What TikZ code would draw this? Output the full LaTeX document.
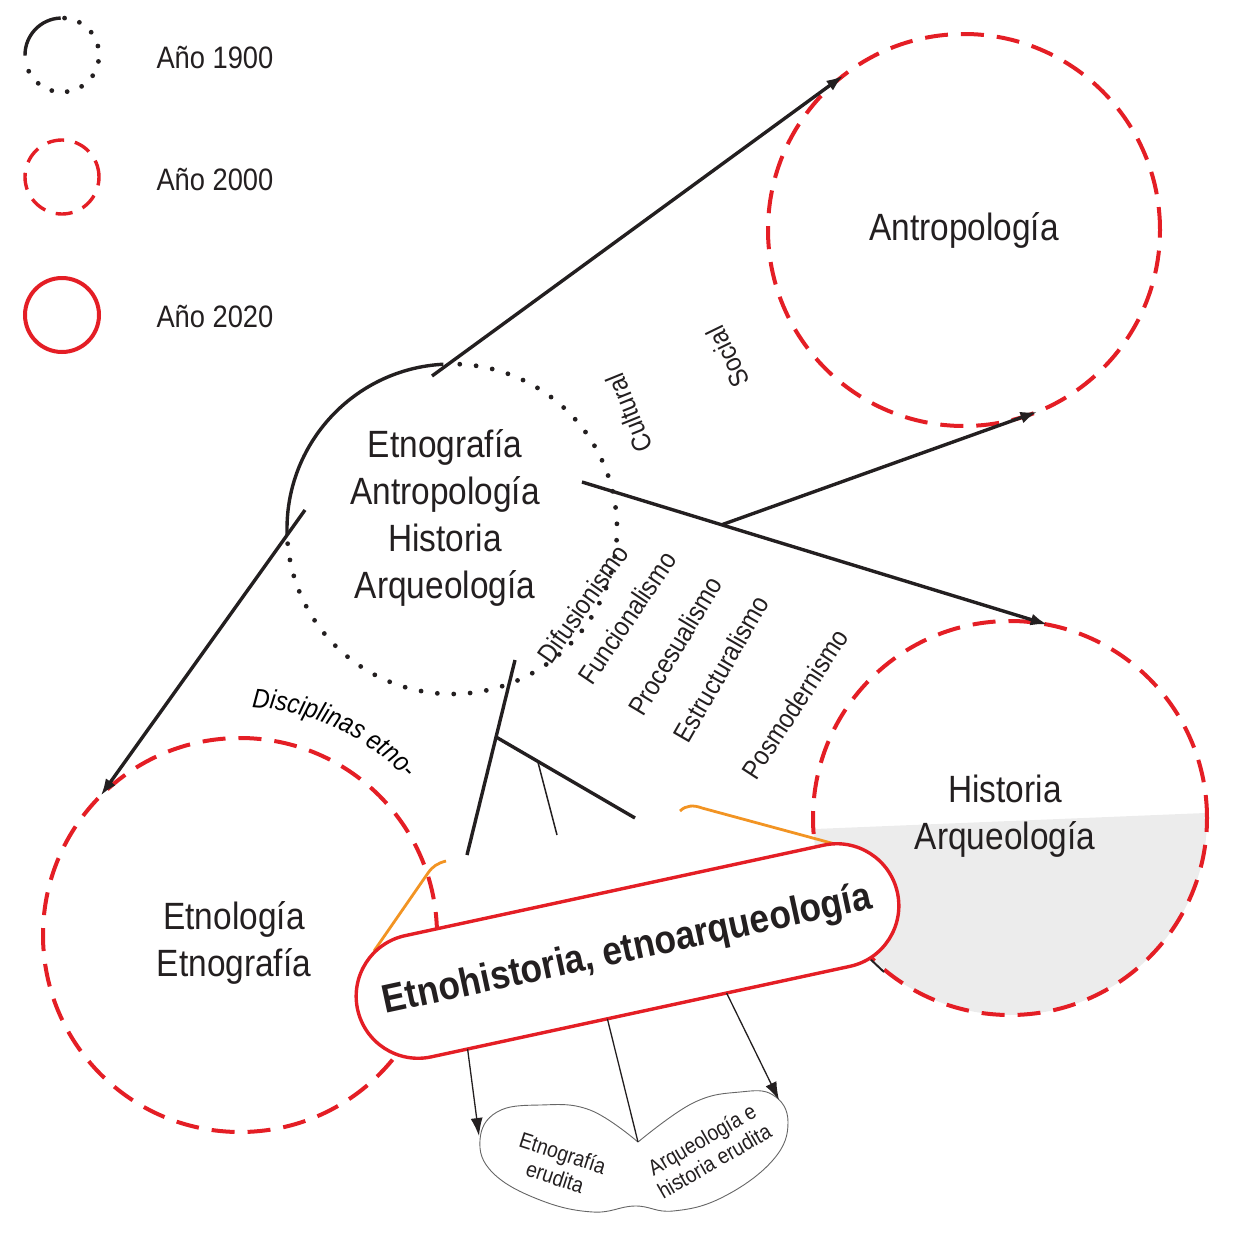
\documentclass[tikz,border=0pt]{standalone}
\usepackage{fontspec}
\setmainfont[FakeStretch=0.88]{Liberation Sans}
\usetikzlibrary{arrows.meta,calc,shapes.misc,decorations.text}

\definecolor{redE}{RGB}{228,30,37}
\definecolor{orangeE}{RGB}{242,148,35}
\definecolor{inkE}{RGB}{35,31,32}
\definecolor{shadeE}{RGB}{236,236,236}

\newcommand\discfont{\fontsize{38}{47}\selectfont}
\newcommand\keyfont{\fontsize{31}{36}\selectfont}
\newcommand\tagfont{\fontsize{27}{30}\selectfont}
\newcommand\leaffont{\fontsize{22}{25}\selectfont}

\tikzset{
  disc/.style      = {circle, draw=redE, line width=4pt, dash pattern=on 23pt off 13pt,
                      outer sep=0pt, align=center, font=\discfont, text=inkE},
  disctext/.style  = {align=center, font=\discfont, text=inkE},
  core/.style      = {circle, outer sep=0pt, minimum size=330pt},
  dotmark/.style   = {fill=inkE},
  solidarc/.style  = {draw=inkE, line width=3.4pt},
  era/.style       = {circle, minimum size=74pt, outer sep=0pt, inner sep=0pt},
  keytext/.style   = {anchor=west, font=\keyfont, text=inkE},
  arr/.style       = {-{Latex[length=17pt,width=12pt]}, draw=inkE, line width=3.4pt},
  branch/.style    = {draw=inkE, line width=3.4pt},
  twig/.style      = {draw=inkE, line width=1.5pt},
  funnel/.style    = {draw=orangeE, line width=2.8pt},
  pill/.style      = {rounded rectangle, draw=redE, fill=white, line width=3.4pt,
                      minimum width=559pt, minimum height=124pt, outer sep=0pt,
                      font=\bfseries\fontsize{40}{44}\selectfont, text=inkE},
  school/.style    = {font=\tagfont, text=inkE},
  leaf/.style      = {-{Latex[length=18pt,width=12pt]}, draw=inkE, line width=1.3pt},
  cloudline/.style = {draw=black!60, line width=0.9pt},
  leaftext/.style  = {align=center, font=\leaffont, text=inkE}
}

\begin{document}
\begin{tikzpicture}[x=1pt, y=1pt]

  \useasboundingbox (0,0) rectangle (1233,-1237);

  % Legend
  \node[era] (y1900) at (62,-55) {};
  \draw[solidarc] (y1900.92) arc[start angle=92, end angle=181, radius=37];
  \foreach \a in {86,62,...,-154}
    \fill[dotmark] ([shift={(\a:37)}]y1900.center) circle[radius=2.4];
  \node[keytext] (k1900) at (153,-58) {Año 1900};

  \node[era, draw=redE, line width=3.4pt, dash pattern=on 17pt off 11pt] (y2000) at (62,-177) {};
  \node[keytext] (k2000) at (153,-180) {Año 2000};

  \node[era, draw=redE, line width=4pt] (y2020) at (62,-315) {};
  \node[keytext] (k2020) at (153,-317) {Año 2020};

  % 2000: disciplines
  \begin{scope}
    \clip (1010,-818) circle[radius=197];
    \fill[shadeE] (800,-829.6) -- (1220,-812.4) -- (1220,-1030) -- (800,-1030) -- cycle;
  \end{scope}
  \node[disc, minimum size=392pt] (antro) at (964,-230) {Antropología};
  \node[disc, minimum size=394pt] (hist)  at (1010,-818) {};
  \node[disctext] (histtxt) at (1005,-816) {Historia\\Arqueología};
  \node[disc, minimum size=394pt] (etno)  at (240,-935) {};
  \node[disctext] (etnotxt) at (234,-943) {Etnología\\Etnografía};

  % 1900: the common root
  \node[core] (core) at (452,-529) {};
  \node[disctext] (coretxt) at (445,-518) {Etnografía\\Antropología\\Historia\\Arqueología};
  \draw[solidarc] (core.93) arc[start angle=93, end angle=182, radius=165];
  \foreach \a in {87.3,81.6,...,-178}
    \fill[dotmark] ([shift={(\a:165)}]core.center) circle[radius=2.4];

  % Arrows out of the root
  \coordinate (s1) at (432,-376);
  \coordinate (s2) at (305,-510);
  \coordinate (s3) at (582,-482);
  \draw[arr] (s1) -- (antro.128.3);
  \draw[arr] (s2) -- (etno.135.4);
  \draw[arr] (s3) -- (hist.79.3);
  \coordinate (fork) at ($(s3)!0.30!(hist.79.3)$);
  \draw[arr] (fork) -- (antro.-68.2);

  % Labels
  \node[school, rotate=112] (cult) at (629,-413) {Cultural};
  \node[school, rotate=116] (soc)  at (728,-357) {Social};
  \node[school, rotate=55] (difu) at (583,-604) {Difusionismo};
  \node[school, rotate=56] (func) at (627,-618) {Funcionalismo};
  \node[school, rotate=59] (proc) at (675,-646) {Procesualismo};
  \node[school, rotate=60] (estr) at (721,-669) {Estructuralismo};
  \node[school, rotate=57] (posm) at (795,-704) {Posmodernismo};
  \path[decorate, decoration={text along path, text align=left,
        text={|\tagfont\itshape|Disciplinas etno-}}]
        ([shift={(87:228)}]etno.center) arc[start angle=87, end angle=35, radius=228];

  % Tree towards the hybrid fields
  \coordinate (t1) at (515,-660);
  \coordinate (t2) at (467,-855);
  \coordinate (tb) at ($(t1)!0.395!(t2)$);
  \coordinate (tb2) at (635,-818);
  \coordinate (tw) at (557,-835);
  \draw[branch] (t1) -- (t2);
  \draw[branch] (tb) -- (tb2);
  \draw[twig] ($(tb)!0.30!(tb2)$) -- (tw);
  \draw[twig, line width=2pt] (850,-940) -- (884,-972);

  \coordinate (o1) at (374,-951);
  \coordinate (o2) at (846,-847);
  \draw[funnel] (446,-861) to[out=195,in=55] (428,-873) -- (o1);
  \draw[funnel] (680,-811) .. controls (686,-805) and (694,-805) .. (702,-808) -- (o2);

  % 2020
  \node[pill, rotate=12.2] (pill) at (627.5,-951) {Etnohistoria, etnoarqueología};

  % Erudite branches
  \coordinate (notch) at (638,-1142);
  \coordinate (lobeL) at (479,-1136);
  \coordinate (lobeR) at (779,-1100);
  \draw[cloudline] plot[smooth, tension=0.7] coordinates {(notch) (590,-1110) (540,-1105)
        (497,-1112) (480,-1140) (493,-1173) (540,-1200) (593,-1212) (635,-1206)
        (673,-1211) (723,-1197) (773,-1160) (788,-1122) (773,-1095) (740,-1092)
        (693,-1103) (notch)};
  \node[leaftext, rotate=-18] (erEt) at (559,-1165) {Etnografía\\erudita};
  \node[leaftext, rotate=30] (erAr) at (708,-1150) {Arqueología e\\historia erudita};

  \draw[leaf] ([shift={(192.2:177)}]pill.south) -- (lobeL);
  \draw[twig, line width=1.3pt] ([shift={(192.2:34)}]pill.south) -- (notch);
  \draw[leaf] ([shift={(12.2:88)}]pill.south) -- (lobeR);

\end{tikzpicture}
\end{document}
